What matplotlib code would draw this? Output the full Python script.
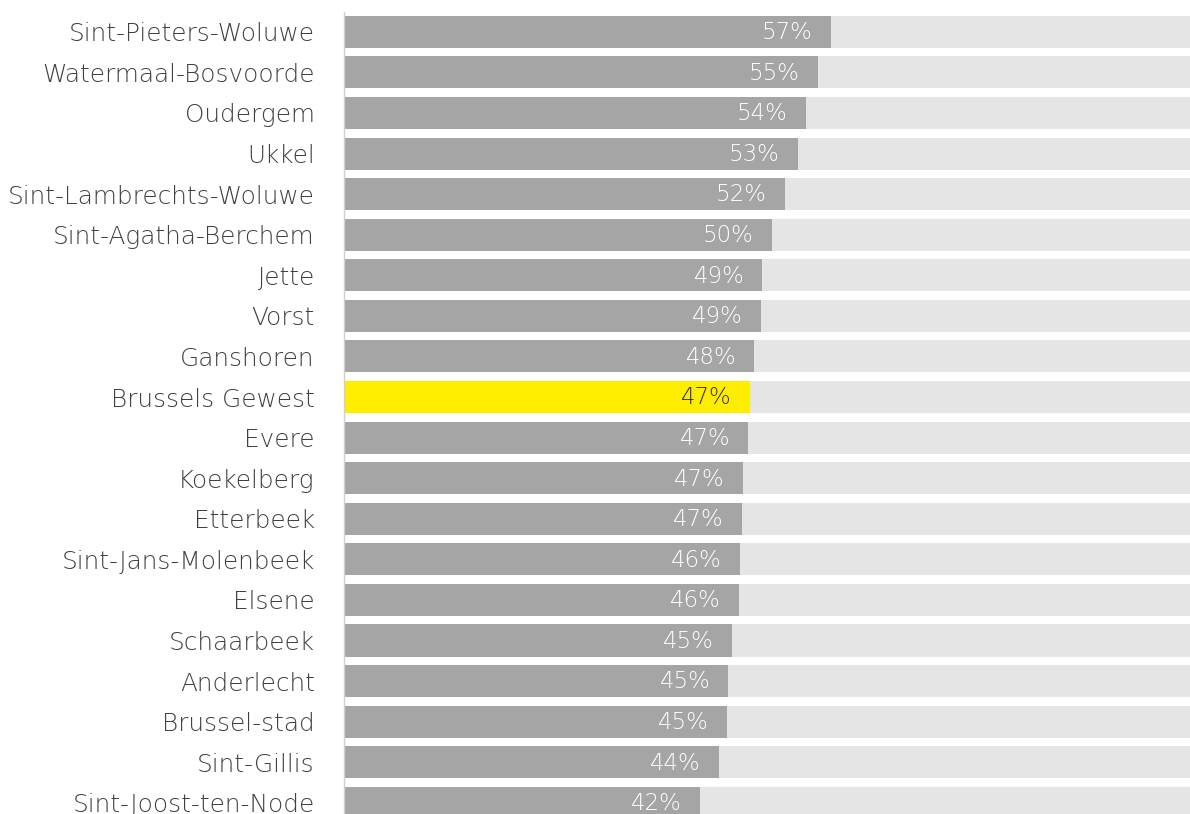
import matplotlib
matplotlib.use("Agg")
import matplotlib.pyplot as plt

# aandeel per gemeente (%)
gemeenten = ["Sint-Pieters-Woluwe", "Watermaal-Bosvoorde", "Oudergem", "Ukkel",
             "Sint-Lambrechts-Woluwe", "Sint-Agatha-Berchem", "Jette", "Vorst",
             "Ganshoren", "Brussels Gewest", "Evere", "Koekelberg", "Etterbeek",
             "Sint-Jans-Molenbeek", "Elsene", "Schaarbeek", "Anderlecht",
             "Brussel-stad", "Sint-Gillis", "Sint-Joost-ten-Node"]
aandeel = [56.97, 55.4, 54.01, 53.08, 51.56, 50.07, 48.94, 48.75, 48.0, 47.46,
           47.3, 46.68, 46.52, 46.33, 46.17, 45.39, 44.96, 44.81, 43.87, 41.65]
gewest = "Brussels Gewest"

plt.rcParams['font.family'] = ['DejaVu Sans']

fig = plt.figure(figsize=(11.9, 8.14), dpi=100)
ax = fig.add_axes([344 / 1190, 0, (1190 - 344) / 1190, 1])

pos = list(range(len(gemeenten)))
kleuren = ['#ffed00' if g == gewest else '#a5a5a5' for g in gemeenten]

# achtergrondbalk tot 100%
ax.barh(pos, [100] * len(pos), height=0.79, color='#e5e5e5', left=0)
ax.barh(pos, aandeel, height=0.79, color=kleuren)

for i, (g, v) in enumerate(zip(gemeenten, aandeel)):
    tekstkleur = '#333333' if g == gewest else 'white'
    ax.text(v - 2.1, i + 0.02, f"{int(v + 0.5)}%", ha='right', va='center',
            fontsize=16.5, color=tekstkleur, fontweight='light')

ax.set_xlim(0, 98.97)
ax.set_ylim(19.275, -0.784)
ax.set_yticks(pos)
ax.set_yticklabels(gemeenten, fontsize=17.8, color='#404040', fontweight='light')
ax.tick_params(axis='y', length=0, pad=21)
ax.set_xticks([])

for s in ['top', 'right', 'bottom']:
    ax.spines[s].set_visible(False)
ax.spines['left'].set_color('#d0d0d0')
ax.spines['left'].set_linewidth(1)
ax.spines['left'].set_bounds(-0.49, 19.275)

fig.savefig("out.png", dpi=100)
